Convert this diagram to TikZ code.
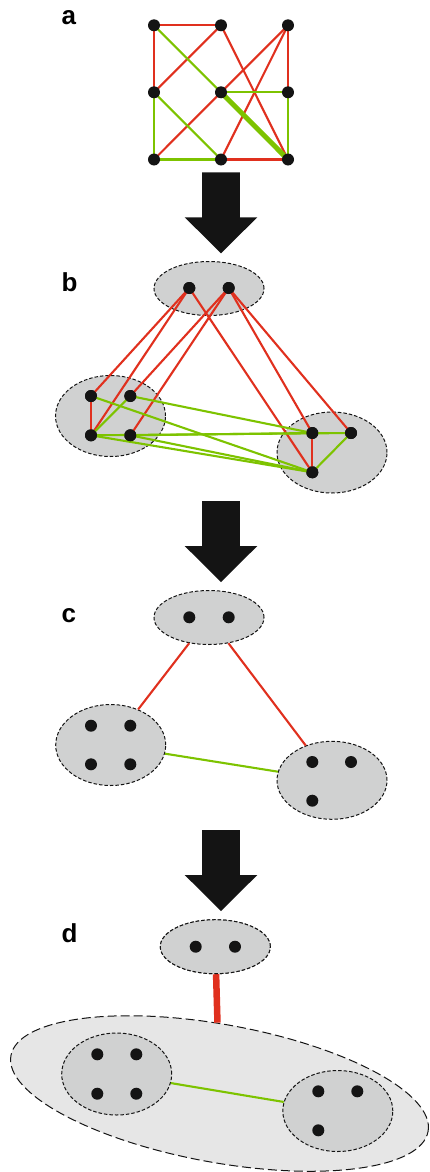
\documentclass[tikz,border=0pt]{standalone}
\usepackage{fontspec}
\setsansfont{Liberation Sans}
\usetikzlibrary{shapes.geometric}
\definecolor{edgered}{HTML}{E0301E}
\definecolor{edgegreen}{HTML}{7DC300}
\definecolor{groupfill}{HTML}{D0D1D1}
\definecolor{outerfill}{HTML}{E6E6E6}
\definecolor{ink}{HTML}{141414}
\tikzset{
  vtx/.style={circle,fill=ink,inner sep=0pt,minimum size=12pt},
  grp/.style={ellipse,draw=ink,fill=groupfill,dash pattern=on 3.5pt off 2pt,
    line width=1pt,inner sep=0pt,minimum width=110pt,minimum height=81pt},
  topgrp/.style={grp,minimum height=54pt},
  outergrp/.style={ellipse,draw=ink,fill=outerfill,dash pattern=on 9pt off 4pt,
    line width=1pt,inner sep=0pt},
  redge/.style={draw=edgered,line width=2.1pt},
  gedge/.style={draw=edgegreen,line width=2.1pt},
  lbl/.style={font=\sffamily\bfseries\fontsize{26}{26}\selectfont,
    anchor=base west,inner sep=0pt},
  bigarrow/.pic={\fill[ink] (-18.8,0) -- (18.8,0) -- (18.8,45) -- (36.3,45)
    -- (0,81) -- (-36.3,45) -- (-18.8,45) -- cycle;}
}
\begin{document}
\begin{tikzpicture}[x=1pt,y=-1pt]
\useasboundingbox (0,0) rectangle (429,1172);

% ---------- panel a: the full graph on a 3x3 grid ----------
\node[lbl] (la) at (61.5,25) {a};
\foreach \c/\x in {1/154,2/221,3/288}{
  \foreach \r/\y in {1/25.3,2/92.3,3/159.5}{
    \coordinate (a\r\c) at (\x,\y);
  }
}
\draw[redge] (a11) -- (a12);
\draw[redge] (a11) -- (a21);
\draw[redge] (a12) -- (a21);
\draw[redge] (a12) -- (a33);
\draw[redge] (a13) -- (a23);
\draw[redge] (a13) -- (a31);
\draw[redge] (a13) -- (a32);
\draw[redge] (a32) -- (a33);
\draw[gedge] (a11) -- (a22);
\draw[gedge] (a21) -- (a31);
\draw[gedge] (a21) -- (a32);
\draw[gedge] (a22) -- (a23);
\draw[gedge] (a23) -- (a33);
\draw[gedge] (a31) -- (a32);
\draw[draw=edgegreen,line width=5pt] (a22) -- (a33);
\foreach \n in {11,12,13,21,22,23,31,32,33}{
  \node[vtx] (va\n) at (a\n) {};
}

\pic at (221,172.3) {bigarrow};

% ---------- panel b: vertices grouped into three clusters ----------
\node[lbl] (lb) at (61.5,291.7) {b};
\node[topgrp] (bt) at (209,288.5) {};
\node[grp] (bl) at (110.5,416) {};
\node[grp] (br) at (332,452.5) {};
\node[vtx] (bt1) at (189.3,288) {};
\node[vtx] (bt2) at (228.7,288) {};
\node[vtx] (bl1) at (91,396) {};
\node[vtx] (bl2) at (130.3,396) {};
\node[vtx] (bl3) at (91,435.3) {};
\node[vtx] (bl4) at (130.3,435.3) {};
\node[vtx] (br1) at (312.3,433) {};
\node[vtx] (br2) at (351,433) {};
\node[vtx] (br3) at (312.3,472.3) {};
\draw[redge] (bt1.center) -- (bl1.center);
\draw[redge] (bt1.center) -- (bl3.center);
\draw[redge] (bt1.center) -- (br3.center);
\draw[redge] (bt2.center) -- (bl2.center);
\draw[redge] (bt2.center) -- (bl4.center);
\draw[redge] (bt2.center) -- (br1.center);
\draw[redge] (bt2.center) -- (br2.center);
\draw[redge] (bl1.center) -- (bl3.center);
\draw[redge] (br1.center) -- (br3.center);
\draw[gedge] (bl3.center) -- (bl2.center);
\draw[gedge] (bl1.center) -- (br3.center);
\draw[gedge] (bl2.center) -- (br1.center);
\draw[gedge] (bl3.center) -- (br2.center);
\draw[gedge] (bl4.center) -- (br1.center);
\draw[gedge] (bl3.center) -- (br3.center);
\draw[gedge] (bl4.center) -- (br3.center);
\draw[gedge] (br2.center) -- (br3.center);
\foreach \n in {bt1,bt2,bl1,bl2,bl3,bl4,br1,br2,br3}{
  \node[vtx] at (\n) {};
}

\pic at (221,501) {bigarrow};

% ---------- panel c: clusters joined by single edges ----------
\node[lbl] (lc) at (61.5,622.7) {c};
\node[topgrp] (ct) at (209,617.5) {};
\node[grp] (cl) at (110.7,745) {};
\node[grp,minimum height=78pt] (cr) at (332,780.3) {};
\draw[redge] (ct) -- (cl);
\draw[redge] (ct) -- (cr);
\draw[gedge] (cl) -- (cr);
\node[vtx] (ct1) at (189.3,617.3) {};
\node[vtx] (ct2) at (228.7,617.3) {};
\node[vtx] (cl1) at (91,725.7) {};
\node[vtx] (cl2) at (130.3,725.7) {};
\node[vtx] (cl3) at (91,764.3) {};
\node[vtx] (cl4) at (130.3,764.3) {};
\node[vtx] (cr1) at (312.3,762) {};
\node[vtx] (cr2) at (351,762) {};
\node[vtx] (cr3) at (312.3,800.7) {};

\pic at (221,830) {bigarrow};

% ---------- panel d: two clusters merged into one super-cluster ----------
\node[lbl] (ld) at (61.5,942.3) {d};
\node[topgrp] (dt) at (215.3,946.7) {};
\node[outergrp,minimum width=424pt,minimum height=138pt,rotate=-10.3] (dbig) at (219.5,1093.5) {};
\draw[draw=edgered,line width=6.5pt] (dt) -- (dbig);
\node[topgrp] at (dt) {};
\node[vtx] (dt1) at (195.7,946.7) {};
\node[vtx] (dt2) at (235,946.7) {};
\node[grp,minimum height=82pt] (dl) at (116.7,1074) {};
\node[grp] (dr) at (337.8,1111) {};
\draw[gedge] (dl) -- (dr);
\node[vtx] (dl1) at (97.3,1054.3) {};
\node[vtx] (dl2) at (136.3,1054.3) {};
\node[vtx] (dl3) at (97.3,1093.7) {};
\node[vtx] (dl4) at (136.3,1093.7) {};
\node[vtx] (dr1) at (318.3,1091.3) {};
\node[vtx] (dr2) at (357.3,1091.3) {};
\node[vtx] (dr3) at (318.3,1130.3) {};
\end{tikzpicture}
\end{document}
